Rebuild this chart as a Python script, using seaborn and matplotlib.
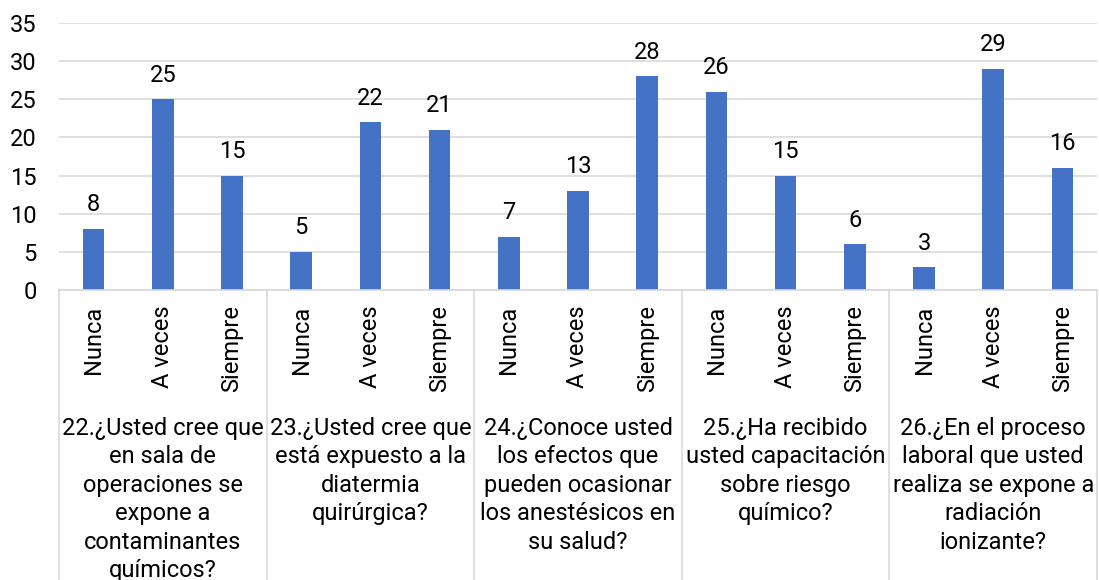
import matplotlib
matplotlib.use("Agg")
import matplotlib.pyplot as plt
import matplotlib.transforms as mtransforms
import seaborn as sns
import pandas as pd

# ---- data ----
questions = [
    "22.¿Usted cree que\nen sala de\noperaciones se\nexpone a\ncontaminantes\nquímicos?",
    "23.¿Usted cree que\nestá expuesto a la\ndiatermia\nquirúrgica?",
    "24.¿Conoce usted\nlos efectos que\npueden ocasionar\nlos anestésicos en\nsu salud?",
    "25.¿Ha recibido\nusted capacitación\nsobre riesgo\nquímico?",
    "26.¿En el proceso\nlaboral que usted\nrealiza se expone a\nradiación\nionizante?",
]
answers = ["Nunca", "A veces", "Siempre"]
q22 = [8, 25, 15]
q23 = [5, 22, 21]
q24 = [7, 13, 28]
q25 = [26, 15, 6]
q26 = [3, 29, 16]
values_by_q = [q22, q23, q24, q25, q26]
y_ticks = [0, 5, 10, 15, 20, 25, 30, 35]

rows = []
for qi, vals in enumerate(values_by_q):
    for a, v in zip(answers, vals):
        rows.append({"key": f"{qi}|{a}", "answer": a, "value": v})
df = pd.DataFrame(rows)

sns.set_style("white")
plt.rcParams["font.family"] = ["Roboto", "DejaVu Sans"]

fig = plt.figure(figsize=(10.99, 5.80), dpi=100)
ax = fig.add_axes([59 / 1099, 1 - 290 / 580, (1097 - 59) / 1099, (290 - 23) / 580])

BLUE = "#4472C4"
GRID = "#D9D9D9"
sns.barplot(data=df, x="key", y="value", color=BLUE, width=0.31, ax=ax,
            saturation=1, order=list(df["key"]), linewidth=0, edgecolor=BLUE)

ax.set_ylim(0, 35)
ax.set_xlim(-0.5, len(df) - 0.5)
ax.set_yticks(y_ticks)
ax.yaxis.grid(True, color=GRID, linewidth=1.2)
ax.set_axisbelow(True)
for s in ["top", "right", "left"]:
    ax.spines[s].set_visible(False)
ax.spines["bottom"].set_color(GRID)
ax.spines["bottom"].set_linewidth(1.2)
ax.set_xlabel("")
ax.set_ylabel("")
ax.set_xticks(range(len(df)))
ax.set_xticklabels(df["answer"], rotation=90, fontsize=17, color="#000000")
ax.tick_params(axis="x", length=0, pad=11)
ax.tick_params(axis="y", length=0, pad=16, labelsize=17, labelcolor="#000000")

# value labels
for i, v in enumerate(df["value"]):
    ax.annotate(str(v), (i, v), xytext=(0, 9), textcoords="offset points",
                ha="center", va="bottom", fontsize=17, color="#000000")

# group separators and labels
trans = mtransforms.blended_transform_factory(ax.transData, fig.transFigure)
bottom_fig = 1 - 290 / 580
for b in [-0.5, 2.5, 5.5, 8.5, 11.5, 14.5]:
    ax.plot([b, b], [bottom_fig, 0], transform=trans, color=GRID,
            linewidth=1.2, clip_on=False)
for qi, q in enumerate(questions):
    ax.text(qi * 3 + 1, 1 - 417 / 580, q, transform=trans, ha="center",
            va="top", fontsize=17, color="#000000", linespacing=1.3)

fig.savefig("out.png", dpi=100)
